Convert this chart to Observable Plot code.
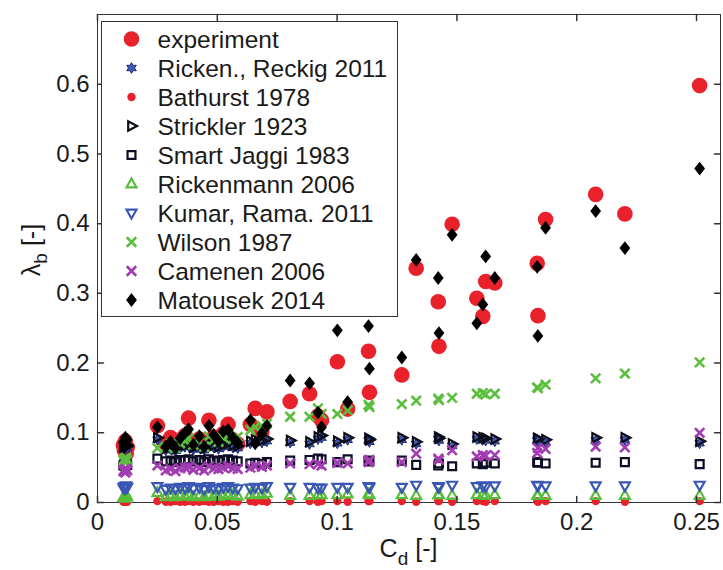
<!DOCTYPE html>
<html>
<head>
<meta charset="utf-8">
<script src="https://cdn.jsdelivr.net/npm/d3@7"></script>
<script src="https://cdn.jsdelivr.net/npm/@observablehq/plot@0.6"></script>
<style>
  html, body { margin: 0; padding: 0; background: #fff; }
  #chart { width: 723px; height: 570px; }
</style>
</head>
<body>
<div id="chart"></div>
<script>
// ---- axis ticks ----
const xTickValues = [0, 0.05, 0.1, 0.15, 0.2, 0.25];
const xTickLabels = ["0", "0.05", "0.1", "0.15", "0.2", "0.25"];
const yTickValues = [0, 0.1, 0.2, 0.3, 0.4, 0.5, 0.6];
const yTickLabels = ["0", "0.1", "0.2", "0.3", "0.4", "0.5", "0.6"];

// ---- series names (legend order = drawing order) ----
const seriesNames = [
  "experiment", "Ricken., Reckig 2011", "Bathurst 1978", "Strickler 1923",
  "Smart Jaggi 1983", "Rickenmann 2006", "Kumar, Rama. 2011", "Wilson 1987",
  "Camenen 2006", "Matousek 2014"
];

// ---- drag coefficient C_d of each run ----
const cd = [
  0.0108, 0.0112, 0.0116, 0.0120, 0.0124,
  0.0250,
  0.0285, 0.0305, 0.0325, 0.0345, 0.0365, 0.0380, 0.0400, 0.0425, 0.0445, 0.0465, 0.0485, 0.0505, 0.0525, 0.0545, 0.0565, 0.0585,
  0.0638, 0.0658, 0.0686, 0.0707,
  0.0804, 0.0885, 0.0920, 0.0935, 0.1001, 0.1044, 0.1131, 0.1135, 0.1270, 0.1330, 0.1422, 0.1425, 0.1480, 0.1583, 0.1608, 0.1620, 0.1658, 0.1835, 0.1838, 0.1870, 0.2079, 0.2201, 0.2513
];

// ---- lambda_b: measured and predicted ----
const experiment = [
  0.082, 0.075, 0.088, 0.070, 0.079,
  0.110,
  0.085, 0.093, 0.080, 0.088, 0.096, 0.121, 0.086, 0.091, 0.082, 0.118, 0.094, 0.087, 0.099, 0.112, 0.090, 0.084,
  0.112, 0.135, 0.101, 0.130,
  0.145, 0.156, 0.124, 0.118, 0.202, 0.134, 0.217, 0.158, 0.183, 0.336, 0.288, 0.224, 0.399, 0.293, 0.267, 0.317, 0.315, 0.343, 0.268, 0.406, 0.442, 0.414, 0.598
];
const rickenReckig = [
  0.077, 0.079, 0.076, 0.080, 0.078,
  0.090,
  0.075, 0.077, 0.074, 0.078, 0.080, 0.081, 0.076, 0.079, 0.075, 0.082, 0.079, 0.077, 0.080, 0.082, 0.079, 0.078,
  0.085, 0.087, 0.086, 0.088,
  0.086, 0.084, 0.091, 0.093, 0.085, 0.090, 0.089, 0.087, 0.090, 0.084, 0.091, 0.089, 0.081, 0.091, 0.090, 0.089, 0.088, 0.089, 0.088, 0.087, 0.089, 0.090, 0.085
];
const bathurst = [
  0.001, 0.002, 0.001, 0.002, 0.001,
  0.002,
  0.001, 0.001, 0.002, 0.001, 0.001, 0.002, 0.001, 0.001, 0.002, 0.001, 0.001, 0.002, 0.001, 0.001, 0.002, 0.001,
  0.002, 0.001, 0.002, 0.001,
  0.002, 0.002, 0.001, 0.002, 0.002, 0.001, 0.002, 0.002, 0.002, 0.001, 0.002, 0.002, 0.001, 0.002, 0.002, 0.001, 0.002, 0.002, 0.001, 0.002, 0.002, 0.001, 0.002
];
const strickler = [
  0.080, 0.082, 0.079, 0.083, 0.081,
  0.093,
  0.078, 0.080, 0.077, 0.081, 0.083, 0.084, 0.079, 0.082, 0.078, 0.085, 0.082, 0.080, 0.083, 0.085, 0.082, 0.081,
  0.088, 0.090, 0.089, 0.091,
  0.089, 0.087, 0.094, 0.096, 0.088, 0.093, 0.092, 0.090, 0.093, 0.087, 0.094, 0.092, 0.084, 0.094, 0.093, 0.092, 0.091, 0.092, 0.091, 0.090, 0.093, 0.093, 0.088
];
const smartJaggi = [
  0.053, 0.055, 0.052, 0.056, 0.054,
  0.063,
  0.059, 0.060, 0.058, 0.061, 0.060, 0.062, 0.059, 0.061, 0.058, 0.062, 0.060, 0.059, 0.061, 0.062, 0.060, 0.059,
  0.056, 0.057, 0.055, 0.058,
  0.060, 0.061, 0.063, 0.062, 0.058, 0.062, 0.060, 0.059, 0.060, 0.054, 0.053, 0.056, 0.052, 0.056, 0.055, 0.057, 0.056, 0.058, 0.057, 0.056, 0.057, 0.058, 0.055
];
const rickenmann = [
  0.007, 0.009, 0.006, 0.010, 0.008,
  0.014,
  0.008, 0.009, 0.008, 0.010, 0.009, 0.011, 0.008, 0.010, 0.008, 0.011, 0.009, 0.009, 0.010, 0.011, 0.010, 0.009,
  0.011, 0.012, 0.011, 0.013,
  0.010, 0.010, 0.011, 0.011, 0.011, 0.012, 0.012, 0.011, 0.011, 0.010, 0.011, 0.011, 0.010, 0.011, 0.011, 0.010, 0.011, 0.010, 0.010, 0.010, 0.010, 0.010, 0.010
];
const kumar = [
  0.021, 0.023, 0.020, 0.024, 0.022,
  0.023,
  0.019, 0.021, 0.020, 0.022, 0.021, 0.023, 0.020, 0.022, 0.019, 0.023, 0.021, 0.020, 0.022, 0.023, 0.021, 0.020,
  0.021, 0.022, 0.021, 0.023,
  0.022, 0.022, 0.021, 0.021, 0.022, 0.022, 0.023, 0.022, 0.022, 0.025, 0.023, 0.022, 0.025, 0.023, 0.024, 0.023, 0.024, 0.025, 0.024, 0.024, 0.024, 0.024, 0.025
];
const wilson = [
  0.060, 0.063, 0.058, 0.064, 0.061,
  0.078,
  0.080, 0.084, 0.078, 0.085, 0.089, 0.092, 0.083, 0.088, 0.080, 0.095, 0.090, 0.087, 0.093, 0.096, 0.091, 0.094,
  0.104, 0.108, 0.110, 0.113,
  0.123, 0.123, 0.135, 0.127, 0.127, 0.132, 0.140, 0.137, 0.141, 0.146, 0.149, 0.147, 0.150, 0.156, 0.157, 0.155, 0.156, 0.165, 0.164, 0.169, 0.178, 0.185, 0.201
];
const camenen = [
  0.045, 0.047, 0.043, 0.048, 0.046,
  0.053,
  0.046, 0.048, 0.045, 0.049, 0.050, 0.051, 0.047, 0.049, 0.046, 0.052, 0.049, 0.048, 0.050, 0.052, 0.049, 0.048,
  0.050, 0.052, 0.051, 0.053,
  0.056, 0.055, 0.055, 0.053, 0.057, 0.056, 0.058, 0.061, 0.058, 0.070, 0.063, 0.061, 0.075, 0.066, 0.068, 0.067, 0.068, 0.071, 0.078, 0.077, 0.080, 0.079, 0.100
];
const matousek = [
  0.086, 0.080, 0.093, 0.083, 0.090,
  0.108,
  0.080, 0.087, 0.078, 0.092, 0.100, 0.105, 0.083, 0.095, 0.080, 0.110, 0.097, 0.088, 0.102, 0.104, 0.093, 0.086,
  0.118, 0.085, 0.099, 0.110,
  0.175, 0.171, 0.129, 0.108, 0.247, 0.144, 0.253, 0.192, 0.208, 0.348, 0.322, 0.243, 0.384, 0.257, 0.284, 0.353, 0.322, 0.338, 0.239, 0.394, 0.418, 0.365, 0.479
];

// ---- marker shapes (MATLAB-like), r = sqrt(size / PI) ----
function poly(ctx, pts) {
  ctx.moveTo(pts[0][0], pts[0][1]);
  for (let i = 1; i < pts.length; ++i) ctx.lineTo(pts[i][0], pts[i][1]);
  ctx.closePath();
}
const rOf = size => Math.sqrt(size / Math.PI);
const symHexagram = { draw(ctx, size) {
  const r = rOf(size), pts = [];
  for (let k = 0; k < 12; ++k) {
    const a = -Math.PI / 2 + k * Math.PI / 6, rr = k % 2 ? r * 0.55 : r;
    pts.push([rr * Math.cos(a), rr * Math.sin(a)]);
  }
  poly(ctx, pts);
}};
const symTriRight = { draw(ctx, size) { const r = rOf(size); poly(ctx, [[r, 0], [-0.6 * r, -0.85 * r], [-0.6 * r, 0.85 * r]]); } };
const symTriUp = { draw(ctx, size) { const r = rOf(size); poly(ctx, [[0, -r], [0.9 * r, 0.6 * r], [-0.9 * r, 0.6 * r]]); } };
const symTriDown = { draw(ctx, size) { const r = rOf(size); poly(ctx, [[0, r], [0.9 * r, -0.6 * r], [-0.9 * r, -0.6 * r]]); } };
const symSquare = { draw(ctx, size) { const r = rOf(size) * 0.72; poly(ctx, [[-r, -r], [r, -r], [r, r], [-r, r]]); } };
const symTimes = { draw(ctx, size) {
  const r = rOf(size) * 0.75;
  ctx.moveTo(-r, -r); ctx.lineTo(r, r); ctx.moveTo(r, -r); ctx.lineTo(-r, r);
}};
const symDiamond = { draw(ctx, size) { const r = rOf(size); poly(ctx, [[0, -1.15 * r], [0.9 * r, 0], [0, 1.15 * r], [-0.9 * r, 0]]); } };

const seriesValues = [experiment, rickenReckig, bathurst, strickler, smartJaggi, rickenmann, kumar, wilson, camenen, matousek];
const seriesStyle = [
  { symbol: d3.symbolCircle, r: 7.8, fill: "#e8212b", stroke: "none",    sw: 0 },
  { symbol: symHexagram,     r: 5.5, fill: "#3f5bb0", stroke: "#1c2c78", sw: 1 },
  { symbol: d3.symbolCircle, r: 4.2, fill: "#e8212b", stroke: "none",    sw: 0 },
  { symbol: symTriRight,     r: 5.5, fill: "none",    stroke: "#0d0d1a", sw: 2.2 },
  { symbol: symSquare,       r: 5.5, fill: "none",    stroke: "#0d0d26", sw: 2.2 },
  { symbol: symTriUp,        r: 5.5, fill: "none",    stroke: "#58bd3a", sw: 2.2 },
  { symbol: symTriDown,      r: 5.5, fill: "none",    stroke: "#3a57b4", sw: 2.2 },
  { symbol: symTimes,        r: 6.3, fill: "none",    stroke: "#5cbe3e", sw: 2.6 },
  { symbol: symTimes,        r: 6.3, fill: "none",    stroke: "#a23cb2", sw: 2.6 },
  { symbol: symDiamond,      r: 6,   fill: "#000",    stroke: "none",    sw: 0 }
];

const series = seriesNames.map((name, k) => ({
  name, ...seriesStyle[k],
  rows: cd.map((c, i) => ({ cd: c, v: seriesValues[k][i] }))
}));

const axisColor = "#333";
const tickShape = { draw(ctx, l) { ctx.moveTo(0, 0); ctx.lineTo(0, -l); } };
const fmtX = d => xTickLabels[xTickValues.indexOf(d)];
const fmtY = d => yTickLabels[yTickValues.indexOf(d)];
const font = '"Liberation Sans", Arial, Helvetica, sans-serif';

const plot = Plot.plot({
  width: 723,
  height: 570,
  marginLeft: 97,
  marginRight: 3,
  marginTop: 14,
  marginBottom: 68,
  style: { fontFamily: font, fontSize: "24px", color: "#1a1a1a", background: "#fff", overflow: "visible" },
  x: { domain: [0, 0.26] },
  y: { domain: [0, 0.7] },
  marks: [
    Plot.frame({ stroke: axisColor, strokeWidth: 1 }),
    ...series.map(s => Plot.dot(s.rows, {
      x: "cd", y: "v", symbol: s.symbol, r: s.r,
      fill: s.fill, stroke: s.stroke, strokeWidth: s.sw
    })),
    // inward ticks on all four sides
    Plot.vector(xTickValues, { x: d => d, frameAnchor: "bottom", anchor: "start", rotate: 0, length: 6, shape: tickShape, stroke: axisColor }),
    Plot.vector(xTickValues, { x: d => d, frameAnchor: "top", anchor: "start", rotate: 180, length: 6, shape: tickShape, stroke: axisColor }),
    Plot.vector(yTickValues, { y: d => d, frameAnchor: "left", anchor: "start", rotate: 90, length: 6, shape: tickShape, stroke: axisColor }),
    Plot.vector(yTickValues, { y: d => d, frameAnchor: "right", anchor: "start", rotate: -90, length: 6, shape: tickShape, stroke: axisColor }),
    Plot.axisX({ ticks: xTickValues, tickFormat: fmtX, tickSize: 0, tickPadding: 10, fontSize: 24, label: null }),
    Plot.axisY({ ticks: yTickValues, tickFormat: fmtY, tickSize: 0, tickPadding: 8, fontSize: 24, label: null })
  ]
});

const svg = d3.select(plot);

// axis titles with subscripts
const xt = svg.append("text")
  .attr("x", 408.5).attr("y", 557)
  .attr("text-anchor", "middle").attr("font-family", font).attr("font-size", 25).attr("fill", "#1a1a1a");
xt.append("tspan").text("C");
xt.append("tspan").attr("dy", 8).attr("font-size", 19).text("d");
xt.append("tspan").attr("dy", -8).text(" [-]");

const yt = svg.append("text")
  .attr("transform", "translate(40,250) rotate(-90)")
  .attr("text-anchor", "middle").attr("font-family", font).attr("font-size", 25).attr("fill", "#1a1a1a");
yt.append("tspan").text("λ");
yt.append("tspan").attr("dy", 7).attr("font-size", 19).text("b");
yt.append("tspan").attr("dy", -7).text(" [-]");

// legend box in the upper-left corner of the axes
const lg = svg.append("g").attr("transform", "translate(101.5,21.5)");
lg.append("rect").attr("width", 296).attr("height", 295)
  .attr("fill", "#fff").attr("stroke", "#333").attr("stroke-width", 1);
series.forEach((s, i) => {
  const cy = 17.5 + i * 29;
  lg.append("path")
    .attr("d", d3.symbol(s.symbol, Math.PI * s.r * s.r)())
    .attr("transform", `translate(30,${cy})`)
    .attr("fill", s.fill).attr("stroke", s.stroke).attr("stroke-width", s.sw);
  lg.append("text")
    .attr("x", 56).attr("y", cy).attr("dy", "0.35em")
    .attr("text-anchor", "start")
    .attr("font-family", font).attr("font-size", 24.5).attr("fill", "#1a1a1a")
    .text(s.name);
});

document.getElementById("chart").appendChild(plot);
</script>
</body>
</html>
